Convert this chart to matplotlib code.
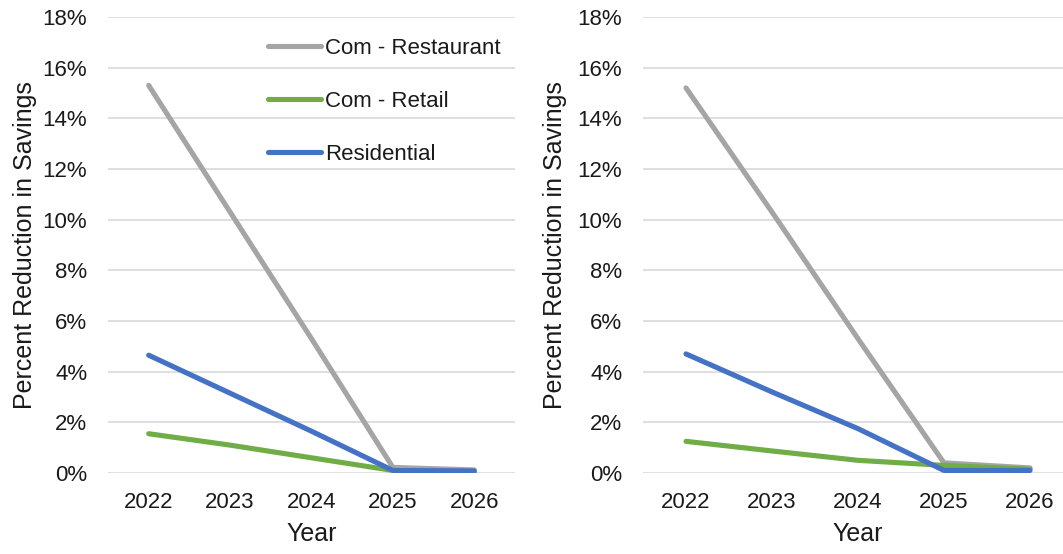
import matplotlib
matplotlib.use("Agg")
import matplotlib.pyplot as plt
from matplotlib.ticker import FuncFormatter

plt.rcParams['font.family'] = ['Liberation Sans', 'DejaVu Sans']

years = ["2022", "2023", "2024", "2025", "2026"]
series_names = ["Com - Restaurant", "Com - Retail", "Residential"]

left_restaurant = [15.3, 10.3, 5.3, 0.22, 0.12]
left_retail = [1.55, 1.1, 0.6, 0.1, 0.03]
left_residential = [4.65, 3.15, 1.65, 0.1, 0.08]

right_restaurant = [15.2, 10.3, 5.3, 0.4, 0.2]
right_retail = [1.25, 0.87, 0.5, 0.3, 0.15]
right_residential = [4.7, 3.2, 1.75, 0.1, 0.1]

colors = ["#A5A5A5", "#70AD47", "#4472C4"]
text_color = "#1a1a1a"

W, H = 1063, 554
fig = plt.figure(figsize=(W / 100, H / 100), dpi=100)

def px_axes(x0, x1, y_top, y_bot):
    return [x0 / W, 1 - y_bot / H, (x1 - x0) / W, (y_bot - y_top) / H]

ax1 = fig.add_axes(px_axes(108, 515, 17, 473))
ax2 = fig.add_axes(px_axes(643, 1073, 17, 473))

def style(ax, data, ylab_x):
    x = list(range(len(years)))
    for vals, c, name in zip(data, colors, series_names):
        ax.plot(x, [v / 100 for v in vals], color=c, lw=3.7, label=name,
                solid_capstyle='round', zorder=3)
    ax.set_xlim(-0.5, len(years) - 0.5)
    ax.set_ylim(0, 0.18)
    ax.set_yticks([i / 100 for i in range(0, 19, 2)])
    ax.yaxis.set_major_formatter(FuncFormatter(lambda v, p: f"{v * 100:.0f}%"))
    ax.set_xticks(x)
    ax.set_xticklabels(years)
    ax.grid(axis='y', color='#D9D9D9', lw=1.2, zorder=0)
    for s in ax.spines.values():
        s.set_visible(False)
    ax.tick_params(axis='both', length=0, labelsize=16, colors=text_color)
    ax.tick_params(axis='y', pad=15)
    ax.tick_params(axis='x', pad=14)
    ax.set_ylabel("Percent Reduction in Savings", fontsize=18, color=text_color)
    ax.set_xlabel("Year", fontsize=18, color=text_color)
    ax.yaxis.set_label_coords(ylab_x, 0.5)
    ax.xaxis.set_label_coords(0.5, -0.108)

style(ax1, [left_restaurant, left_retail, left_residential], -0.175)
style(ax2, [right_restaurant, right_retail, right_residential], -0.177)

leg = ax1.legend(loc='upper left', bbox_to_anchor=(268 / W, 1 - 38 / H),
                 bbox_transform=fig.transFigure, frameon=False, fontsize=16,
                 handlelength=2.39, handletextpad=0.18, labelspacing=1.43,
                 borderaxespad=0, borderpad=0)
for t in leg.get_texts():
    t.set_color(text_color)

fig.savefig("out.png", dpi=100)
